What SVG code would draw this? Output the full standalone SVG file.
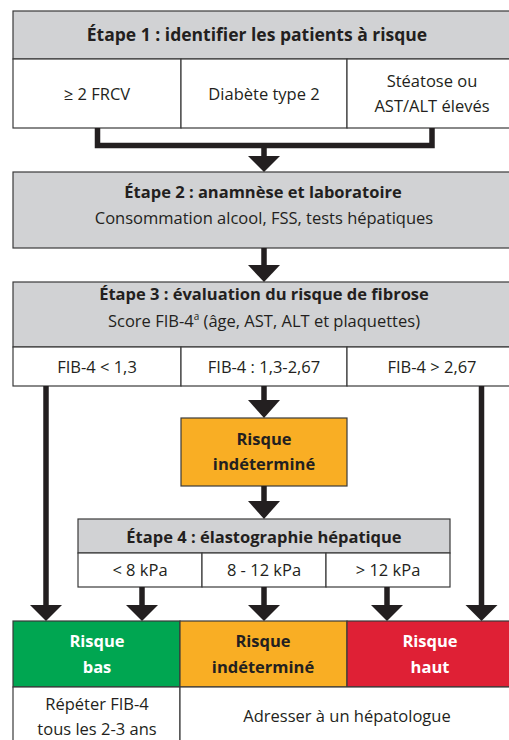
<svg xmlns="http://www.w3.org/2000/svg" width="509" height="740" viewBox="0 0 509 740">
<defs>
<style>
.gray{fill:#d1d2d4;stroke:#3a3a3a;stroke-width:1.2}
.white{fill:#ffffff;stroke:#3a3a3a;stroke-width:1.2}
.orange{fill:#f9ae24;stroke:#3a3a3a;stroke-width:1.2}
.green{fill:#00a651;stroke:#3a3a3a;stroke-width:1.2}
.red{fill:#df2035;stroke:#3a3a3a;stroke-width:1.2}
text{font-family:"Open Sans","Noto Sans","Liberation Sans",sans-serif;font-size:16.5px;fill:#231f20;text-anchor:middle}
.b{font-weight:bold}
.t1{font-size:17.5px}
.w{fill:#ffffff}
.line{fill:none;stroke:#231f20;stroke-width:5.5}
.head{fill:#231f20}
</style>
</defs>
<rect width="509" height="740" fill="#ffffff"/>

<g id="step1">
<rect class="gray" x="13" y="11" width="500" height="48"/>
<rect class="white" x="13" y="59" width="168" height="69"/>
<rect class="white" x="181" y="59" width="166" height="69"/>
<rect class="white" x="347" y="59" width="166" height="69"/>
<text class="b t1" x="257" y="41">Étape 1 : identifier les patients à risque</text>
<text x="97" y="100">≥ 2 FRCV</text>
<text x="264" y="100">Diabète type 2</text>
<text x="432" y="87">Stéatose ou</text>
<text x="432" y="112">AST/ALT élevés</text>
</g>

<g id="step2">
<rect class="gray" x="13" y="172" width="500" height="76"/>
<text class="b" x="263" y="198">Étape 2 : anamnèse et laboratoire</text>
<text x="264" y="224">Consommation alcool, FSS, tests hépatiques</text>
</g>

<g id="step3">
<rect class="gray" x="13" y="282" width="500" height="65"/>
<rect class="white" x="13" y="347" width="168" height="39"/>
<rect class="white" x="181" y="347" width="166" height="39"/>
<rect class="white" x="347" y="347" width="166" height="39"/>
<text class="b" x="264" y="300">Étape 3 : évaluation du risque de fibrose</text>
<text x="264" y="327">Score FIB-4<tspan font-size="10" dy="-7">a</tspan><tspan dy="7"> (âge, AST, ALT et plaquettes)</tspan></text>
<text x="97" y="373">FIB-4 &lt; 1,3</text>
<text x="264" y="373">FIB-4 : 1,3-2,67</text>
<text x="432" y="373">FIB-4 &gt; 2,67</text>
</g>

<g id="indetermine1">
<rect class="orange" x="181" y="418" width="166" height="68"/>
<text class="b" x="264" y="445">Risque</text>
<text class="b" x="264" y="470">indéterminé</text>
</g>

<g id="step4">
<rect class="gray" x="78" y="519" width="372" height="34"/>
<rect class="white" x="78" y="553" width="124" height="34"/>
<rect class="white" x="202" y="553" width="124" height="34"/>
<rect class="white" x="326" y="553" width="124" height="34"/>
<text class="b" x="264" y="543">Étape 4 : élastographie hépatique</text>
<text x="140" y="576">&lt; 8 kPa</text>
<text x="264" y="576">8 - 12 kPa</text>
<text x="388" y="576">&gt; 12 kPa</text>
</g>

<g id="risque-bas">
<rect class="green" x="13" y="621" width="167" height="66"/>
<text class="b w" x="97" y="647">Risque</text>
<text class="b w" x="97" y="673">bas</text>
</g>
<g id="risque-indetermine">
<rect class="orange" x="180" y="621" width="167" height="66"/>
<text class="b" x="263" y="647">Risque</text>
<text class="b" x="263" y="673">indéterminé</text>
</g>
<g id="risque-haut">
<rect class="red" x="347" y="621" width="166" height="66"/>
<text class="b w" x="430" y="647">Risque</text>
<text class="b w" x="430" y="673">haut</text>
</g>

<g id="action-bas">
<rect class="white" x="13" y="687" width="167" height="60"/>
<text x="97" y="710">Répéter FIB-4</text>
<text x="97" y="735">tous les 2-3 ans</text>
</g>
<g id="action-hepatologue">
<rect class="white" x="180" y="687" width="333" height="60"/>
<text x="347" y="722">Adresser à un hépatologue</text>
</g>

<g id="connectors">
<path class="line" d="M97.5 128V145.5H432V128M264 145.5V158"/>
<polygon class="head" points="248,156 280,156 264,172"/>
<path class="line" d="M264 248V268"/>
<polygon class="head" points="248,265 280,265 264,282"/>
<path class="line" d="M264 386V403"/>
<polygon class="head" points="248,400 280,400 264,418"/>
<path class="line" d="M264 486V504"/>
<polygon class="head" points="248,501 280,501 264,519"/>
<path class="line" d="M46 386V607"/>
<polygon class="head" points="30,605 62,605 46,621"/>
<path class="line" d="M481.5 386V607"/>
<polygon class="head" points="465.5,605 497.5,605 481.5,621"/>
<path class="line" d="M142 587V607"/>
<polygon class="head" points="126,605 158,605 142,621"/>
<path class="line" d="M264 587V607"/>
<polygon class="head" points="248,605 280,605 264,621"/>
<path class="line" d="M387 587V607"/>
<polygon class="head" points="371,605 403,605 387,621"/>
</g>
</svg>
